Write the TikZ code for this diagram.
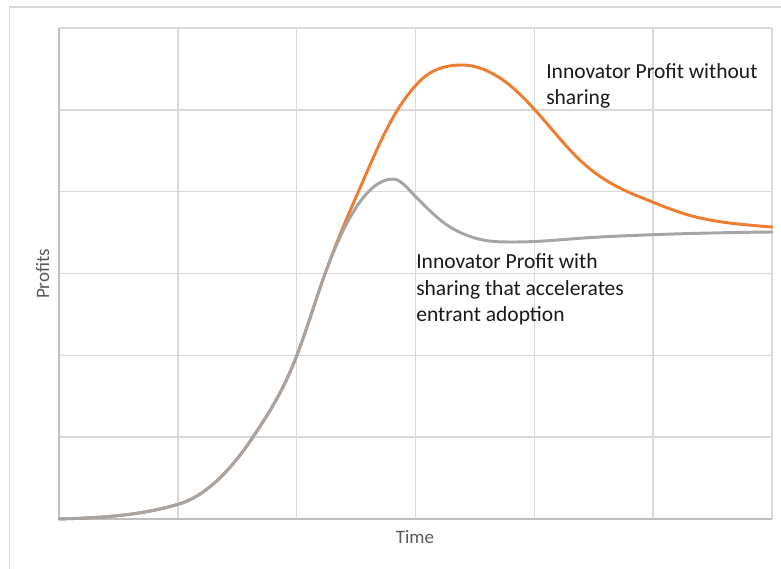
\documentclass[tikz,border=0pt]{standalone}
\usepackage{fontspec}
\setmainfont{Carlito}
\definecolor{gridgray}{HTML}{D9D9D9}
\definecolor{axisgray}{HTML}{BFBFBF}
\definecolor{noshare}{HTML}{ED7D31}
\definecolor{withshare}{HTML}{A5A5A5}
\definecolor{titlegray}{HTML}{595959}
\begin{document}
\begin{tikzpicture}[x=0.025cm,y=-0.025cm]
    \tikzstyle{grid}=[draw=gridgray,line width=1pt]
    \tikzstyle{axis}=[draw=axisgray,line width=1pt]
    \tikzstyle{curve}=[line width=2.1pt,line join=round,line cap=round]
    \tikzstyle{label}=[anchor=base west,inner sep=0pt,align=left,font=\fontsize{15.3}{19}\selectfont,text=black!90]
    \tikzstyle{title}=[anchor=base,inner sep=0pt,font=\fontsize{13.5}{16}\selectfont,text=titlegray]
    \useasboundingbox (0,0) rectangle (781,569);
    % chart frame
    \draw[grid] (9.5,569) -- (9.5,7) -- (781,7);
    % gridlines
    \foreach \i in {1,...,6} \draw[grid] (59+118.83*\i,28) -- (59+118.83*\i,519);
    \foreach \j in {0,...,5} \draw[grid] (59,28+81.83*\j) -- (772,28+81.83*\j);
    \draw[axis] (59,28) -- (59,519) -- (772,519);
    % common rise
    \coordinate (start) at (59,519);
    \coordinate (split) at (318,294);
    % profit without sharing
    \draw[curve,noshare] (start)
        .. controls (99,517.8) and (139,516) .. (179,504)
        .. controls (203.67,496.6) and (228.33,474) .. (253,437)
        .. controls (267.67,415) and (282.33,393.1) .. (297,355)
        .. controls (304,336.8) and (311,315) .. (split)
        .. controls (333,249) and (348,215.5) .. (363,181)
        .. controls (375.33,152.6) and (387.67,124.5) .. (400,106)
        .. controls (410,91) and (420,79) .. (430,73)
        .. controls (440.67,66.6) and (451.33,65) .. (462,65)
        .. controls (474.67,65) and (487.33,69.8) .. (500,78)
        .. controls (511.67,85.6) and (523.33,97.2) .. (535,110)
        .. controls (551,127.6) and (567,148.6) .. (583,163)
        .. controls (602,180.1) and (621,189.4) .. (640,197)
        .. controls (660,205) and (680,213.6) .. (700,218)
        .. controls (724,223.3) and (748,225.1) .. (772,227);
    % profit with sharing
    \draw[curve,withshare] (start)
        .. controls (99,517.8) and (139,516) .. (179,504)
        .. controls (203.67,496.6) and (228.33,474) .. (253,437)
        .. controls (267.67,415) and (282.33,393.1) .. (297,355)
        .. controls (304,336.8) and (311,315) .. (split)
        .. controls (343,219) and (368,179) .. (393,179)
        .. controls (400.67,179) and (408.33,189.3) .. (416,197)
        .. controls (427.33,208.3) and (438.67,220.2) .. (450,227)
        .. controls (461,233.6) and (472,237.8) .. (483,240)
        .. controls (493.67,242.1) and (504.33,242) .. (515,242)
        .. controls (543.33,242) and (571.67,238.4) .. (600,237)
        .. controls (657.33,234.1) and (714.67,232.6) .. (772,232);
    % labels
    \node[label] (without) at (546,105) {Innovator Profit without\\sharing};
    \node[label] (with) at (416,322) {Innovator Profit with\\sharing that accelerates\\entrant adoption};
    \node[title] (time) at (415,543) {Time};
    \node[title,rotate=90] (profits) at (49,274) {Profits};
\end{tikzpicture}
\end{document}
